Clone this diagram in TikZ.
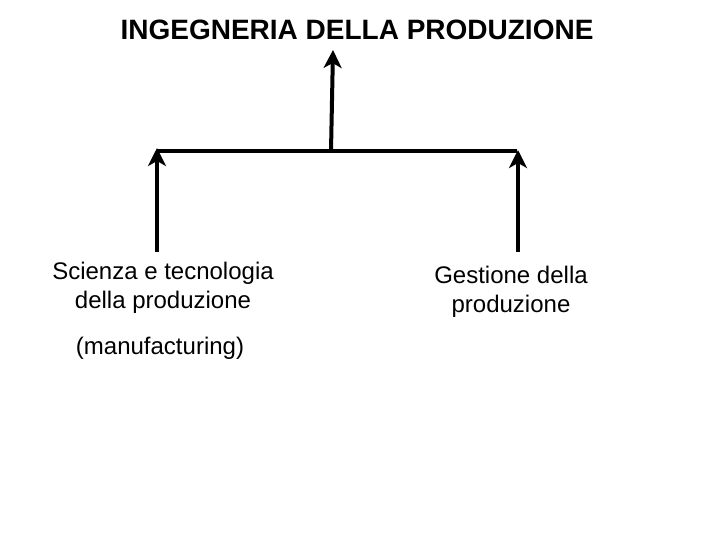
\documentclass[tikz,border=0pt]{standalone}
\usepackage{fontspec}
\setmainfont{Liberation Sans}
\usetikzlibrary{arrows.meta}
\begin{document}
\begin{tikzpicture}[x=1pt,y=-1pt,
  conn/.style={line width=4pt},
  arr/.style={line width=4pt,-{Stealth[length=18pt,width=18pt,inset=5pt]}},
  lbl/.style={font=\fontsize{24}{29}\selectfont,align=center,inner sep=0pt}]
\useasboundingbox (0,0) rectangle (720,540);
\node[font=\fontsize{28}{32}\selectfont\bfseries,inner sep=0pt] (title) at (357,30) {INGEGNERIA DELLA PRODUZIONE};
\coordinate (hl) at (157,151);
\coordinate (hr) at (517,151);
\coordinate (hm) at (331,151);
\coordinate (tm) at (333,50);
\coordinate (bl) at (157,252);
\coordinate (tl) at (157,148);
\coordinate (br) at (518,252);
\coordinate (tr) at (518,150);
\draw[conn] (hl) -- (hr);
\draw[arr] (hm) -- (tm);
\draw[arr] (bl) -- (tl);
\draw[arr] (br) -- (tr);
\node[lbl] (sci) at (163,288) {Scienza e tecnologia\\della produzione};
\node[lbl] (man) at (160,348) {(manufacturing)};
\node[lbl] (ges) at (511,292) {Gestione della\\produzione};
\end{tikzpicture}
\end{document}
